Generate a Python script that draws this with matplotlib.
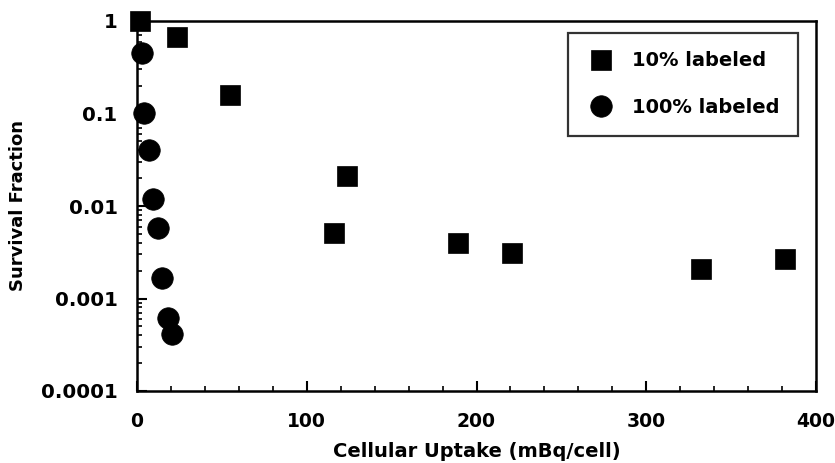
import matplotlib
matplotlib.use("Agg")
import matplotlib.pyplot as plt
from matplotlib.ticker import MultipleLocator, LogLocator, FixedLocator, NullFormatter

# Data
sq_x = [1.5, 23.5, 55, 123.5, 116, 189, 221, 332, 382]
sq_y = [1.0, 0.67, 0.158, 0.021, 0.0051, 0.0040, 0.0031, 0.0021, 0.0027]
circ_x = [2.9, 4.1, 6.8, 9.4, 12.6, 15, 18, 20.9]
circ_y = [0.45, 0.101, 0.040, 0.0119, 0.0058, 0.00167, 0.00061, 0.00041]

y_ticks = [0.0001, 0.001, 0.01, 0.1, 1]
y_labels = ["0.0001", "0.001", "0.01", "0.1", "1"]
x_ticks = [0, 100, 200, 300, 400]
x_labels = ["0", "100", "200", "300", "400"]

plt.rcParams['font.family'] = ['DejaVu Sans']
plt.rcParams['font.weight'] = 'bold'

fig = plt.figure(figsize=(8.35, 4.63), dpi=100)
ax = fig.add_axes([137/835, 1 - 391/463, (816-137)/835, (391-21)/463])

ax.plot(sq_x, sq_y, linestyle='none', marker='s', ms=15, color='black',
        mec='black', mew=0.5, clip_on=False, label='10% labeled', zorder=3)
ax.plot(circ_x, circ_y, linestyle='none', marker='o', ms=15.5, color='black',
        mec='black', mew=0.5, clip_on=False, label='100% labeled', zorder=3)

ax.set_yscale('log')
ax.set_xlim(0, 400)
ax.set_ylim(1e-4, 1)

ax.xaxis.set_major_locator(FixedLocator(x_ticks))
ax.set_xticklabels(x_labels)
ax.xaxis.set_minor_locator(MultipleLocator(20))
ax.yaxis.set_major_locator(FixedLocator(y_ticks))
ax.set_yticklabels(y_labels)
ax.yaxis.set_minor_locator(LogLocator(base=10, subs=range(2, 10)))
ax.yaxis.set_minor_formatter(NullFormatter())

ax.tick_params(axis='both', which='major', direction='in', length=7, width=1.5,
               top=False, right=False)
ax.tick_params(axis='both', which='minor', direction='in', length=3.5, width=1.2,
               top=False, right=False)
ax.tick_params(axis='x', which='major', pad=15, labelsize=13.5)
ax.tick_params(axis='y', which='major', pad=14, labelsize=14.3)

for s in ax.spines.values():
    s.set_linewidth(1.8)

ax.set_xlabel('Cellular Uptake (mBq/cell)', fontsize=14, fontweight='bold', labelpad=8)
ax.set_ylabel('Survival Fraction', fontsize=13, fontweight='bold', labelpad=10)

leg = ax.legend(loc='upper right', bbox_to_anchor=(0.973, 0.968), frameon=True,
                fancybox=False, edgecolor='black', fontsize=14,
                handlelength=1.5, handletextpad=0.85, borderpad=0.95,
                labelspacing=1.43, borderaxespad=0, markerscale=1.0)
leg.get_frame().set_linewidth(1.6)

fig.savefig('out.png', dpi=100)
